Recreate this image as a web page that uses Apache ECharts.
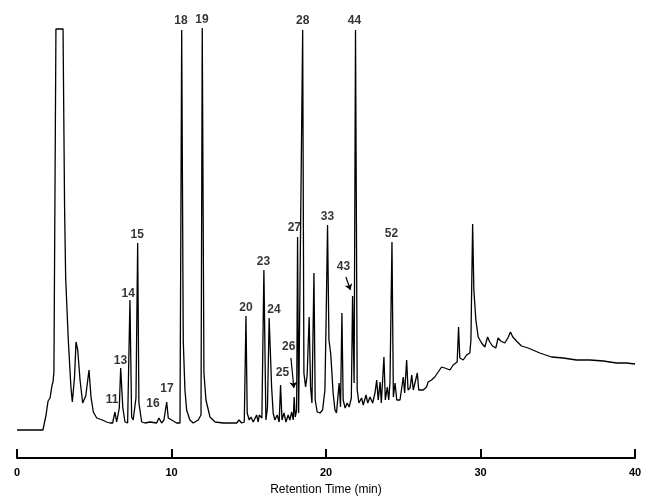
<!DOCTYPE html>
<html>
<head>
<meta charset="utf-8">
<script src="https://cdn.jsdelivr.net/npm/echarts@6/dist/echarts.min.js"></script>
<style>
html,body{margin:0;padding:0;background:#fff;}
#chart{width:648px;height:497px;}
</style>
</head>
<body>
<div id="chart"></div>
<script>
// Retention time (min)
const traceTime = [0,1.68,1.88,2.01,2.14,2.27,2.33,2.39,2.46,2.50,2.52,2.98,3.08,3.15,3.32,3.49,3.58,3.72,3.82,3.93,4.08,4.25,4.45,4.58,4.66,4.79,4.94,5.16,5.52,5.80,6.02,6.19,6.34,6.45,6.62,6.71,6.85,6.99,7.16,7.31,7.42,7.52,7.70,7.81,7.89,8.07,8.28,8.61,9.04,9.19,9.36,9.51,9.69,9.79,10.01,10.33,10.55,10.66,10.76,10.87,10.98,11.19,11.41,11.73,11.91,11.99,12.10,12.23,12.49,12.82,13.35,13.90,14.22,14.37,14.54,14.71,14.82,14.90,15.03,15.14,15.29,15.51,15.61,15.68,15.85,15.98,16.11,16.21,16.32,16.48,16.58,16.69,16.84,16.97,17.06,17.15,17.28,17.41,17.55,17.66,17.78,17.88,17.94,18.01,18.10,18.16,18.23,18.31,18.49,18.57,18.68,18.78,18.91,19.00,19.09,19.22,19.30,19.43,19.61,19.78,19.93,20.02,20.10,20.19,20.30,20.36,20.46,20.58,20.68,20.85,20.94,21.03,21.11,21.24,21.37,21.50,21.64,21.72,21.82,21.91,22.02,22.13,22.30,22.41,22.59,22.70,22.85,23.02,23.17,23.28,23.38,23.50,23.58,23.75,23.84,23.97,24.06,24.14,24.27,24.36,24.47,24.58,24.79,25.00,25.09,25.22,25.31,25.44,25.55,25.65,25.76,25.91,26.00,26.29,26.51,26.61,26.83,27.04,27.26,27.48,27.69,28.02,28.23,28.49,28.58,28.66,28.88,29.10,29.31,29.38,29.49,29.57,29.70,29.85,30.07,30.28,30.46,30.60,30.78,30.99,31.14,31.31,31.57,31.77,31.94,32.09,32.33,32.65,33.08,33.84,34.60,35.35,36.21,37.09,37.95,38.81,39.46,40.00];
// Detector response (arbitrary units)
const traceSignal = [28,28,43,57,60,73,76,86,84,88,429,429,250,180,118,71,56,80,116,108,78,55,62,78,88,61,46,40,38,36,35,35,46,36,50,90,50,36,35,158,41,38,60,215,55,36,35,36,35,40,35,38,56,40,38,35,35,428,118,68,48,38,35,38,43,430,85,58,41,36,35,35,35,38,35,36,142,45,38,41,36,43,36,43,40,188,38,50,140,71,45,38,43,36,73,38,45,36,43,38,46,38,61,41,48,221,45,43,428,85,71,83,141,71,55,185,58,46,45,48,68,150,233,118,105,91,65,48,45,75,51,145,58,50,55,51,60,162,75,428,68,55,60,53,63,55,61,55,65,78,58,76,55,101,58,71,58,75,216,61,75,58,58,81,65,98,68,70,83,68,70,85,68,68,71,76,78,81,86,91,90,88,93,96,131,100,98,103,105,118,234,168,138,121,115,111,121,116,112,110,120,117,115,120,126,121,117,112,110,105,101,100,98,98,97,95,95,94];

// Peak labels
const peakNames = ['11','13','14','15','16','17','18','19','20','23','24','25','26','27','28','33','43','44','52'];
const peakLabelTimes = [6.15,6.70,7.20,7.78,8.80,9.71,10.61,11.97,14.82,15.95,16.63,17.18,17.59,17.95,18.49,20.10,21.13,21.84,24.24];
const peakLabelHeights = [58,97,164,223,54,69,437,438,150,196,148,85,111,230,437,241,191,437,224];

// Arrows (peaks 26 and 43): start / end points
const arrowStartTimes = [17.73, 21.29];
const arrowStartHeights = [100, 181];
const arrowEndTimes = [17.92, 21.58];
const arrowEndHeights = [70, 168];

const xTicks = [0, 10, 20, 30, 40];

const chart = echarts.init(document.getElementById('chart'), null, {renderer: 'canvas'});
const ink = '#000000';
const font = 'Liberation Sans, Arial, Helvetica, sans-serif';

const option = {
  animation: false,
  backgroundColor: '#ffffff',
  grid: {left: 17, right: 13, top: 0, bottom: 39, containLabel: false, outerBoundsMode: 'none'},
  xAxis: {
    type: 'value',
    min: xTicks[0],
    max: xTicks[xTicks.length - 1],
    interval: 10,
    name: 'Retention Time (min)',
    nameLocation: 'middle',
    nameGap: 26,
    nameTextStyle: {color: ink, fontSize: 12, fontFamily: font},
    axisLine: {show: true, onZero: false, lineStyle: {color: ink, width: 2}},
    axisTick: {show: true, inside: true, length: 9, lineStyle: {color: ink, width: 2}},
    axisLabel: {color: ink, fontSize: 11, fontWeight: 'bold', fontFamily: font, margin: 9},
    splitLine: {show: false}
  },
  yAxis: {type: 'value', min: 0, max: 458, show: false},
  series: [
    {
      type: 'line',
      data: traceTime.map((t, i) => [t, traceSignal[i]]),
      showSymbol: false,
      symbol: 'none',
      smooth: false,
      lineStyle: {color: ink, width: 1.3},
      z: 2
    },
    {
      type: 'scatter',
      data: peakLabelTimes.map((t, i) => [t, peakLabelHeights[i]]),
      symbolSize: 0,
      label: {
        show: true,
        position: 'inside',
        formatter: p => peakNames[p.dataIndex],
        color: ink,
        fontSize: 12,
        fontWeight: 'bold',
        fontFamily: font
      },
      z: 3
    },
    {
      type: 'lines',
      coordinateSystem: 'cartesian2d',
      symbol: ['none', 'arrow'],
      symbolSize: 6,
      lineStyle: {color: ink, width: 1.2, opacity: 1},
      data: arrowStartTimes.map((t, i) => ({coords: [[t, arrowStartHeights[i]], [arrowEndTimes[i], arrowEndHeights[i]]]})),
      z: 3
    }
  ]
};
chart.setOption(option);
</script>
</body>
</html>
